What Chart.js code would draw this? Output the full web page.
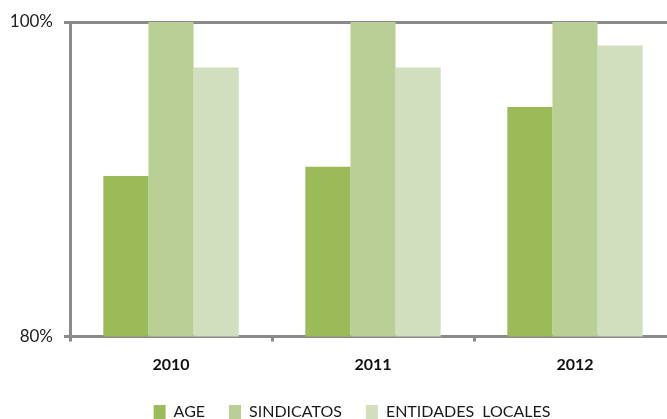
<!DOCTYPE html>
<html>
<head>
<meta charset="utf-8">
<script src="https://cdn.jsdelivr.net/npm/chart.js@4"></script>
<style>
  html, body { margin: 0; padding: 0; background: #fff; overflow: hidden; }
  #wrap { position: relative; width: 680px; height: 430px; }
</style>
</head>
<body>
<div id="wrap"><canvas id="bar_chart"></canvas></div>
<script>
// years on the x axis
const years = ['2010', '2011', '2012'];

// percent values
const age = [90.2, 90.8, 94.6];
const sindicatos = [100, 100, 100];
const entidadesLocales = [97.1, 97.1, 98.5];

const seriesNames = ['AGE', 'SINDICATOS', 'ENTIDADES  LOCALES'];
const seriesColors = ['#9bbb59', '#bacf96', '#d2dfbf'];

const axisGray = '#8a8a8a';

// nudge the legend a little to the right, like the original
const legendShift = {
    id: 'legendShift',
    afterLayout(chart) {
        chart.legend.left += 11;
        chart.legend.right += 11;
    }
};

const ctx = document.getElementById('bar_chart').getContext('2d');

new Chart(ctx, {
    type: 'bar',
    data: {
        labels: years,
        datasets: [age, sindicatos, entidadesLocales].map((values, i) => ({
            label: seriesNames[i],
            data: values,
            backgroundColor: seriesColors[i],
            borderWidth: 0,
            categoryPercentage: 0.67,
            barPercentage: 1.0
        }))
    },
    options: {
        responsive: true,
        maintainAspectRatio: false,
        animation: false,
        layout: { padding: { left: 6, right: 4, top: 22, bottom: 0 } },
        plugins: {
            tooltip: { enabled: false },
            legend: {
                position: 'bottom',
                labels: {
                    boxWidth: 12,
                    boxHeight: 14,
                    padding: 24,
                    color: '#1a1a1a',
                    font: { family: 'Lato', size: 16 }
                }
            }
        },
        scales: {
            x: {
                grid: {
                    offset: true,
                    drawOnChartArea: false,
                    color: axisGray,
                    lineWidth: 3,
                    tickLength: 5
                },
                border: { display: true, color: axisGray, width: 3 },
                ticks: {
                    padding: 14,
                    color: '#111',
                    font: { family: 'Lato', size: 16, weight: 'bold' }
                },
                afterFit: (scale) => { scale.height = 43.5; }
            },
            y: {
                min: 80,
                max: 100,
                grid: {
                    color: axisGray,
                    lineWidth: 3,
                    tickLength: 6
                },
                border: { display: true, color: axisGray, width: 3 },
                ticks: {
                    stepSize: 20,
                    padding: 11,
                    color: '#222',
                    font: { family: 'Lato', size: 17 },
                    callback: (v) => v + '%'
                },
                afterFit: (scale) => { scale.width = 64; }
            }
        }
    },
    plugins: [legendShift]
});
</script>
</body>
</html>
